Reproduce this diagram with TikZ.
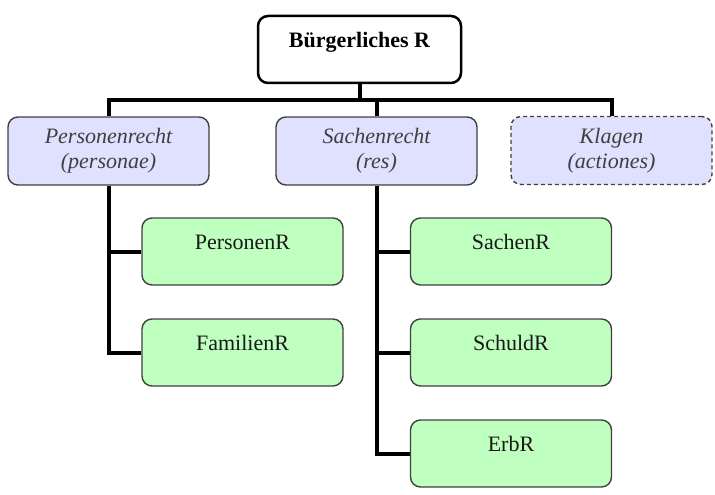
\documentclass[tikz,border=0pt]{standalone}
\usepackage{fontspec}
\setmainfont{Liberation Serif}
\usetikzlibrary{backgrounds}
\begin{document}
\begin{tikzpicture}[x=1pt,y=-1pt,
  topbox/.style={draw=black,line width=2.5pt,fill=white,rounded corners=10pt,minimum width=203pt,minimum height=67pt,inner sep=0pt},
  midbox/.style={draw=black!75,line width=1.4pt,fill=blue!12!white,rounded corners=10pt,minimum width=201pt,minimum height=68pt,inner sep=0pt,align=center,font=\fontsize{22}{25}\selectfont\itshape,text=black!75},
  dashbox/.style={midbox,dash pattern=on 4pt off 3pt},
  leafbox/.style={draw=black!75,line width=1.4pt,fill=green!25!white,rounded corners=10pt,minimum width=201pt,minimum height=67pt,inner sep=0pt},
  leaftext/.style={font=\fontsize{22}{25}\selectfont,text=black!90,inner sep=0pt},
  conn/.style={draw=black,line width=4pt}]
\useasboundingbox (0,0) rectangle (715,495);
\coordinate (bar) at (0,100);
% top
\node[topbox] (top) at (359.5,49.5) {};
\node[font=\fontsize{22}{25}\selectfont\bfseries,inner sep=0pt] (toptext) at (359.5,42) {Bürgerliches R};
% middle row
\node[midbox] (pers) at (108.5,151) {Personenrecht\\(personae)};
\node[midbox] (sach) at (376.5,151) {Sachenrecht\\(res)};
\node[dashbox] (kla) at (611.5,150.5) {Klagen\\(actiones)};
% leaves
\node[leafbox] (prR) at (242.5,251.5) {};
\node[leafbox] (famR) at (242.5,352.5) {};
\node[leafbox] (sR) at (511,251.5) {};
\node[leafbox] (schR) at (511,352.5) {};
\node[leafbox] (erbR) at (511,453.5) {};
\node[leaftext] (prRt) at (242.5,242) {PersonenR};
\node[leaftext] (famRt) at (242.5,343) {FamilienR};
\node[leaftext] (sRt) at (511,242) {SachenR};
\node[leaftext] (schRt) at (511,343) {SchuldR};
\node[leaftext] (erbRt) at (511,444) {ErbR};
\begin{pgfonlayer}{background}
% connectors top level
\draw[conn] (top.south) -- (top.south |- bar);
\draw[conn] (pers.north) -- (pers.north |- bar) -- (kla.north |- bar) -- (kla.north);
\draw[conn] (sach.north |- bar) -- (sach.north);
% child connectors
\draw[conn] (pers.south) |- (famR.west);
\draw[conn] (pers.south |- prR.west) -- (prR.west);
\draw[conn] (sach.south) |- (erbR.west);
\draw[conn] (sach.south |- sR.west) -- (sR.west);
\draw[conn] (sach.south |- schR.west) -- (schR.west);
\end{pgfonlayer}
\end{tikzpicture}
\end{document}
